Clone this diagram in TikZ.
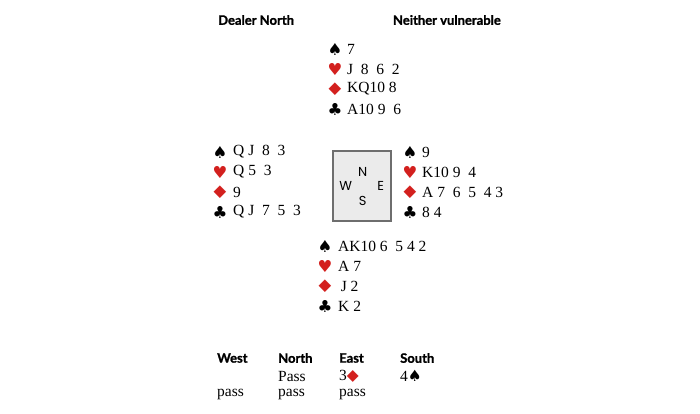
\documentclass[tikz,border=0pt]{standalone}
\usepackage{fontspec}
\setmainfont{Liberation Serif}
\setsansfont{Poppins}
\newfontfamily\hdrfont{Lato}[BoldFeatures={FakeBold=1.2}]
\newfontfamily\suitfont{DejaVu Sans}
\usetikzlibrary{positioning}

\definecolor{suitred}{HTML}{D3201E}
\definecolor{boxgray}{HTML}{EBEBEB}
\definecolor{boxline}{HTML}{6E6E6E}
\newcommand\spd{{\suitfont\char"2660}}
\newcommand\hrt{{\suitfont\color{suitred}\char"2665}}
\newcommand\dmd{{\suitfont\color{suitred}\raisebox{0.5pt}{\char"25C6}}}
\newcommand\clb{{\suitfont\char"2663}}

\tikzset{
  hdr/.style={font=\hdrfont\bfseries\fontsize{13}{13}\selectfont, inner sep=0, anchor=west},
  suit/.style={font=\fontsize{16.5}{16.5}\selectfont, inner sep=0},
  cards/.style={font=\fontsize{15.5}{15.5}\selectfont, inner sep=0, anchor=west},
  bid/.style={font=\fontsize{15.5}{15.5}\selectfont, inner sep=0, anchor=west},
  compass/.style={font=\sffamily\fontsize{13}{13}\selectfont, inner sep=0},
}

\begin{document}
\begin{tikzpicture}[x=1pt,y=-1pt]
\useasboundingbox (0,0) rectangle (700,413);
\node[hdr] (dealer) at (218,20) {Dealer North};
\node[hdr, anchor=east] (vul) at (501,20) {Neither vulnerable};
% North
\foreach \s/\c [count=\i from 0] in {\spd/7, \hrt/J\enspace8\enspace6\enspace2, \dmd/KQ10 8, \clb/A10 9\enspace6} {
 \node[suit] (N\i) at (335,49+20*\i) {\s};
 \node[cards] (Nc\i) at (347,49+20*\i) {\c};
}
% West
\foreach \s/\c [count=\i from 0] in {\spd/Q J\enspace8\enspace3, \hrt/Q 5\enspace3, \dmd/9, \clb/Q J\enspace7\enspace5\enspace3} {
 \node[suit] (W\i) at (220,152+20*\i) {\s};
 \node[cards] (Wc\i) at (233,152+20*\i) {\c};
}
% East
\foreach \s/\c [count=\i from 0] in {\spd/9, \hrt/K10 9\enspace4, \dmd/A 7\enspace6\enspace5\enspace4 3, \clb/8 4} {
 \node[suit] (E\i) at (410,152+20*\i) {\s};
 \node[cards] (Ec\i) at (422,152+20*\i) {\c};
}
% South
\foreach \s/\c [count=\i from 0] in {\spd/AK10 6\enspace5 4 2, \hrt/A 7, \dmd/\,J 2, \clb/K 2} {
 \node[suit] (S\i) at (325,246+20*\i) {\s};
 \node[cards] (Sc\i) at (338,246+20*\i) {\c};
}
% table
\node[draw=boxline, fill=boxgray, line width=1.2pt, minimum width=58, minimum height=70, inner sep=0] (table) at (362,186) {};
\node[compass] (tN) at (362.7,172) {N};
\node[compass] (tW) at (345.7,185.5) {W};
\node[compass] (tE) at (380.7,185.5) {E};
\node[compass] (tS) at (362.7,200.5) {S};
% auction
\foreach \p/\x in {West/217, North/278, East/339, South/400}
 \node[hdr] (a\p) at (\x,358) {\p};
\node[bid] (b1) at (278,376) {Pass};
\node[bid] (b2) at (339,376) {3\dmd};
\node[bid] (b3) at (400,376) {4\spd};
\node[bid] (b4) at (217,394) {pass};
\node[bid] (b5) at (278,394) {pass};
\node[bid] (b6) at (339,394) {pass};
\end{tikzpicture}
\end{document}
